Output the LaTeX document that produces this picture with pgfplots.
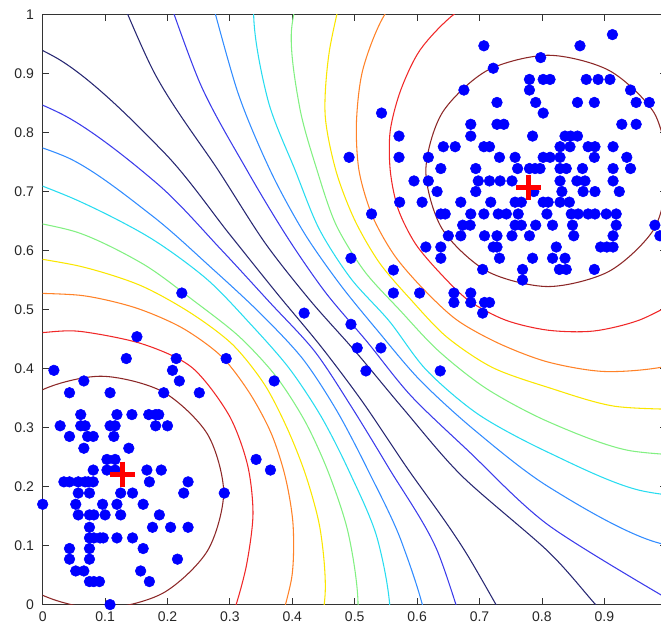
\documentclass[border=0pt]{standalone}
\usepackage{pgfplots}
\pgfplotsset{compat=1.18}
\usepackage{fontspec}
\setmainfont{Liberation Sans}
\definecolor{c1}{RGB}{40,40,115}
\definecolor{c2}{RGB}{60,60,235}
\definecolor{c3}{RGB}{50,140,255}
\definecolor{c4}{RGB}{40,220,240}
\definecolor{c5}{RGB}{130,240,130}
\definecolor{c6}{RGB}{250,230,0}
\definecolor{c7}{RGB}{255,130,40}
\definecolor{c8}{RGB}{240,40,40}
\definecolor{c9}{RGB}{140,40,40}
\begin{document}
\begin{tikzpicture}
\useasboundingbox (-32pt,-18.4pt) rectangle (463.7pt,453.4pt);
\clip (-32pt,-18.4pt) rectangle (463.7pt,453.4pt);
\begin{axis}[
  scale only axis, width=468pt, height=442.5pt,
  xmin=0, xmax=1, ymin=0, ymax=1,
  xtick={0,0.1,0.2,0.3,0.4,0.5,0.6,0.7,0.8,0.9,1},
  ytick={0,0.1,0.2,0.3,0.4,0.5,0.6,0.7,0.8,0.9,1},
  xticklabels={0,0.1,0.2,0.3,0.4,0.5,0.6,0.7,0.8,0.9,{}},
  yticklabels={0,0.1,0.2,0.3,0.4,0.5,0.6,0.7,0.8,0.9,1},
  tick align=inside, major tick length=5pt,
  tick label style={font=\fontsize{10.5}{12}\selectfont, text=black!85},
  xticklabel style={yshift=-2pt},
  yticklabel style={xshift=-3pt},
  axis line style={black!80, line width=0.6pt},
  tick style={black!80, line width=0.6pt},
  clip mode=individual,
  cl/.style={smooth, line width=0.8pt, no markers},
]
% ---- lower-left family
\addplot[cl, c9] coordinates {(-0.104,0.190) (-0.078,0.289) (-0.006,0.361) (0.093,0.387) (0.192,0.361) (0.264,0.289) (0.290,0.190) (0.264,0.091) (0.192,0.019) (0.093,-0.007) (-0.006,0.019) (-0.078,0.091) (-0.104,0.190)};
\addplot[cl, c8] coordinates {(-0.05,0.455) (0,0.461) (0.06,0.463) (0.159,0.442) (0.239,0.402) (0.298,0.322) (0.328,0.238) (0.337,0.154) (0.327,0.069) (0.31,0) (0.295,-0.04)};
\addplot[cl, c7] coordinates {(-0.030,0.528) (0.0638,0.5237) (0.1482,0.5032) (0.2232,0.4691) (0.2865,0.4206) (0.3322,0.3575) (0.3665,0.2895) (0.3889,0.2159) (0.4012,0.1357) (0.3993,0.0472) (0.3764,-0.0478)};
\addplot[cl, c6] coordinates {(-0.054,0.594) (0.0594,0.5735) (0.155,0.5416) (0.2354,0.4954) (0.3038,0.4412) (0.3551,0.3736) (0.3918,0.2988) (0.4217,0.2188) (0.4446,0.128) (0.4528,0.0222) (0.4377,-0.0993)};
\addplot[cl, c5] coordinates {(-0.078,0.66) (0.0544,0.6313) (0.1612,0.577) (0.2439,0.5135) (0.3148,0.4543) (0.374,0.3867) (0.421,0.3094) (0.4586,0.222) (0.4899,0.12) (0.5054,-0.0023) (0.4913,-0.1443)};
\addplot[cl, c4] coordinates {(-0.112,0.754) (0.0494,0.688) (0.1694,0.6233) (0.262,0.5525) (0.3328,0.4757) (0.3945,0.4011) (0.4463,0.3186) (0.4915,0.2249) (0.5362,0.1119) (0.557,-0.0264) (0.5296,-0.1764)};
\addplot[cl, c3] coordinates {(-0.1355,0.818) (0.0435,0.7558) (0.1756,0.6588) (0.2705,0.5706) (0.3482,0.4941) (0.4166,0.4166) (0.4717,0.3278) (0.5214,0.2275) (0.5756,0.1049) (0.6187,-0.0551) (0.6062,-0.2407)};
\addplot[cl, c2] coordinates {(-0.172,0.9185) (0.0372,0.8276) (0.185,0.712) (0.2853,0.6024) (0.3636,0.5125) (0.4354,0.4298) (0.4943,0.336) (0.5552,0.2305) (0.6307,0.0952) (0.6875,-0.0872)};
\addplot[cl, c1] coordinates {(-0.215,1.036) (0.0289,0.9222) (0.1946,0.7661) (0.298,0.6296) (0.3758,0.527) (0.4461,0.4372) (0.513,0.3429) (0.5831,0.2329) (0.679,0.0867) (0.80,-0.14)};
% ---- upper-right family
\addplot[cl, c1] coordinates {(0.0739,1.16) (0.1773,0.9045) (0.282,0.735) (0.356,0.6134) (0.429,0.515) (0.5024,0.4274) (0.5775,0.3323) (0.6715,0.2182) (0.81,0.09) (0.886,0) (0.93,-0.05)};
\addplot[cl, c2] coordinates {(0.1778,1.1) (0.2517,0.8846) (0.328,0.735) (0.3918,0.6229) (0.4532,0.529) (0.5201,0.4451) (0.59,0.354) (0.6827,0.2598) (0.81,0.135) (1.0049,0.0077)};
\addplot[cl, c3] coordinates {(0.2644,1.05) (0.3126,0.8683) (0.365,0.735) (0.4188,0.6302) (0.4766,0.5425) (0.5378,0.4628) (0.605,0.3799) (0.6922,0.2955) (0.81,0.20) (0.9782,0.1072) (1.195,0.0682)};
\addplot[cl, c4] coordinates {(0.3645,1.1805) (0.338,1.0075) (0.3609,0.8553) (0.405,0.735) (0.443,0.6367) (0.4939,0.5525) (0.5554,0.4804) (0.615,0.3973) (0.6992,0.3216) (0.81,0.258) (0.9549,0.1941) (1.135,0.1721)};
\addplot[cl, c5] coordinates {(0.4289,1.1161) (0.3986,0.9725) (0.412,0.8416) (0.44,0.735) (0.47,0.6439) (0.5156,0.565) (0.5731,0.4981) (0.634,0.4302) (0.7111,0.366) (0.81,0.31) (0.9368,0.2617) (1.09,0.25)};
\addplot[cl, c6] coordinates {(0.4847,1.0603) (0.4593,0.9375) (0.4526,0.8308) (0.47,0.735) (0.4999,0.6519) (0.5398,0.579) (0.5908,0.5158) (0.6475,0.4535) (0.7207,0.4018) (0.81,0.368) (0.9169,0.3361) (1.0435,0.3306)};
\addplot[cl, c7] coordinates {(0.61,1.0814) (0.547,0.998) (0.513,0.9065) (0.5028,0.8173) (0.507,0.735) (0.528,0.6594) (0.5632,0.5925) (0.6099,0.5349) (0.664,0.4821) (0.7316,0.4423) (0.81,0.411) (0.9011,0.395) (1.001,0.4042) (1.1034,0.4416)};
\addplot[cl, c8] coordinates {(0.7272,1.0441) (0.6575,0.9991) (0.6049,0.9401) (0.5736,0.8715) (0.5569,0.8028) (0.557,0.735) (0.5695,0.6706) (0.597,0.612) (0.6368,0.5618) (0.683,0.515) (0.7422,0.4819) (0.81,0.465) (0.8827,0.4636) (0.956,0.4821) (1.0257,0.5193)};
\addplot[cl, c9] coordinates {(1.006,0.735) (0.98,0.833) (0.908,0.905) (0.81,0.931) (0.712,0.905) (0.64,0.833) (0.614,0.735) (0.64,0.637) (0.712,0.565) (0.81,0.539) (0.908,0.565) (0.98,0.637) (1.006,0.735)};
% ---- data points
\addplot[only marks, mark=*, mark size=4pt, color=blue, mark options={fill=blue, draw=blue}] coordinates {
(0.108,0) (0,0.17) (0.151,0.454) (0.018,0.397) (0.134,0.417) (0.214,0.417) (0.294,0.417) (0.208,0.397) (0.219,0.379) (0.066,0.379) (0.043,0.359) (0.108,0.359) (0.194,0.359) (0.251,0.359) (0.371,0.379) (0.342,0.246) (0.365,0.228) (0.291,0.189)
(0.061,0.322) (0.119,0.322) (0.143,0.322) (0.170,0.322) (0.181,0.322) (0.186,0.322)
(0.028,0.303) (0.061,0.303) (0.068,0.303) (0.108,0.303) (0.116,0.303) (0.181,0.303) (0.2,0.303)
(0.043,0.285) (0.072,0.285) (0.081,0.285) (0.114,0.285)
(0.066,0.265) (0.138,0.265)
(0.103,0.246) (0.116,0.246)
(0.081,0.228) (0.103,0.228) (0.116,0.228) (0.167,0.228) (0.19,0.228)
(0.034,0.208) (0.043,0.208) (0.057,0.208) (0.068,0.208) (0.073,0.208) (0.081,0.208) (0.171,0.208) (0.233,0.208)
(0.057,0.189) (0.075,0.189) (0.125,0.189) (0.144,0.189) (0.226,0.189)
(0.053,0.17) (0.096,0.17) (0.119,0.17) (0.161,0.17)
(0.057,0.152) (0.075,0.152) (0.082,0.152) (0.1,0.152) (0.125,0.152) (0.187,0.152)
(0.075,0.131) (0.176,0.131) (0.205,0.131) (0.233,0.131)
(0.075,0.113) (0.082,0.113) (0.092,0.113) (0.097,0.113) (0.119,0.113) (0.144,0.113)
(0.043,0.095) (0.075,0.095) (0.161,0.095)
(0.043,0.077) (0.075,0.077) (0.216,0.077)
(0.053,0.057) (0.066,0.057) (0.157,0.057)
(0.075,0.039) (0.082,0.039) (0.091,0.039) (0.171,0.039)
(0.223,0.528) (0.419,0.494) (0.494,0.475) (0.504,0.435) (0.542,0.435) (0.518,0.396) (0.637,0.396) (0.494,0.587) (0.527,0.662) (0.562,0.567) (0.562,0.528) (0.604,0.528)
(0.707,0.947) (0.861,0.947) (0.913,0.966) (0.798,0.927) (0.722,0.909)
(0.78,0.89) (0.802,0.89) (0.813,0.89) (0.871,0.89) (0.89,0.89) (0.909,0.89)
(0.675,0.872) (0.78,0.872) (0.942,0.872)
(0.543,0.833)
(0.728,0.851) (0.790,0.851) (0.857,0.851) (0.884,0.851) (0.951,0.851) (0.972,0.851)
(0.802,0.833)
(0.686,0.814) (0.728,0.814) (0.739,0.814) (0.928,0.814) (0.951,0.814)
(0.571,0.794) (0.686,0.794) (0.785,0.794) (0.837,0.794) (0.846,0.794) (0.857,0.794)
(0.642,0.776) (0.661,0.776) (0.707,0.776) (0.716,0.776) (0.829,0.776) (0.845,0.776) (0.874,0.776) (0.885,0.776) (0.914,0.776)
(0.491,0.758) (0.571,0.758) (0.618,0.758) (0.732,0.758) (0.757,0.758) (0.802,0.758) (0.813,0.758) (0.829,0.758) (0.884,0.758) (0.936,0.758)
(0.638,0.739) (0.694,0.739) (0.761,0.739) (0.78,0.739) (0.789,0.739) (0.797,0.739) (0.829,0.739) (0.839,0.739) (0.865,0.739) (0.914,0.739) (0.942,0.739)
(0.595,0.718) (0.618,0.718) (0.698,0.718) (0.716,0.718) (0.733,0.718) (0.752,0.718) (0.829,0.718) (0.856,0.718) (0.869,0.718) (0.914,0.718)
(0.632,0.7) (0.694,0.7) (0.787,0.7) (0.832,0.7) (0.866,0.7) (0.885,0.7) (0.924,0.7)
(0.572,0.682) (0.608,0.682) (0.670,0.682) (0.718,0.682) (0.757,0.682) (0.767,0.682) (0.802,0.682) (0.81,0.682) (0.829,0.682) (0.844,0.682)
(0.638,0.662) (0.645,0.662) (0.686,0.662) (0.707,0.662) (0.73,0.662) (0.743,0.662) (0.762,0.662) (0.808,0.662) (0.847,0.662) (0.858,0.662) (0.874,0.662) (0.885,0.662) (0.903,0.662) (0.919,0.662)
(0.673,0.643) (0.685,0.643) (0.757,0.643) (0.767,0.643) (0.79,0.643) (0.817,0.643) (0.849,0.643) (0.919,0.643) (0.981,0.643)
(0.65,0.625) (0.67,0.625) (0.708,0.625) (0.728,0.625) (0.752,0.625) (0.78,0.625) (0.851,0.625) (0.914,0.625) (0.989,0.625)
(0.614,0.606) (0.638,0.606) (0.722,0.606) (0.728,0.606) (0.823,0.606) (0.894,0.606) (0.904,0.606) (0.914,0.606)
(0.638,0.587) (0.732,0.587) (0.785,0.587) (0.817,0.587) (0.837,0.587)
(0.705,0.568) (0.769,0.568) (0.828,0.568) (0.839,0.568) (0.884,0.568)
(0.769,0.55)
(0.659,0.528) (0.686,0.528)
(0.659,0.512) (0.686,0.512) (0.708,0.512) (0.716,0.512)
(0.705,0.494)
};
% ---- centroids
\addplot[only marks, mark=+, mark size=9.5pt, color=red, mark options={line width=4pt}] coordinates {(0.128,0.221) (0.778,0.707)};
\end{axis}
\end{tikzpicture}
\end{document}
